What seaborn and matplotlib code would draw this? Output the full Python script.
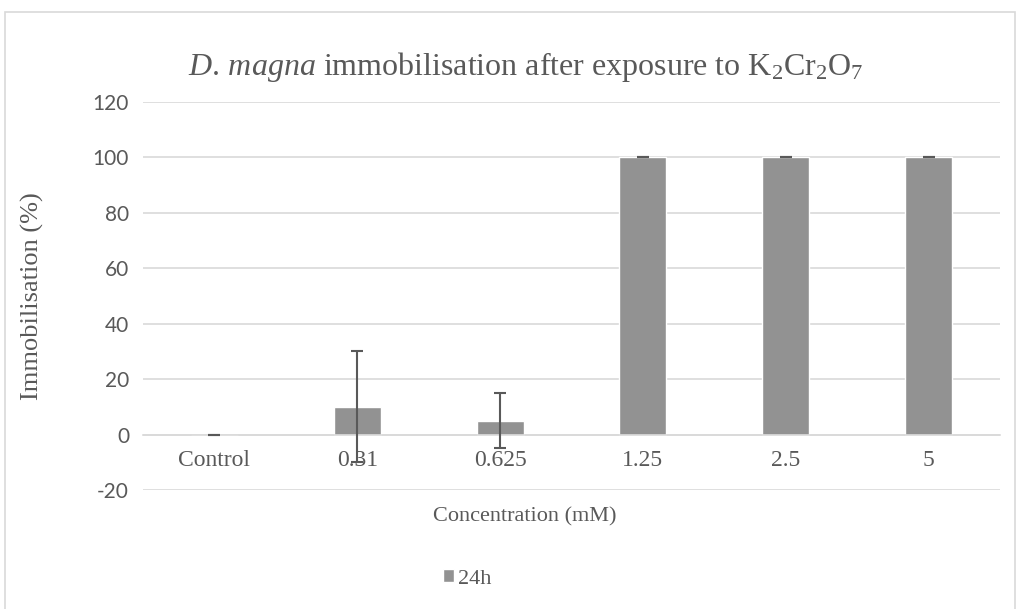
import matplotlib
matplotlib.use("Agg")
import matplotlib.pyplot as plt
from matplotlib.patches import Rectangle
import seaborn as sns
import pandas as pd

# values
concentrations = ["Control", "0.31", "0.625", "1.25", "2.5", "5"]
immobilisation = [0, 10, 5, 100, 100, 100]
std_dev = [0, 20, 10, 0, 0, 0]
series_name = "24h"
y_ticks = [-20, 0, 20, 40, 60, 80, 100, 120]

df = pd.DataFrame({"conc": concentrations, "immob": immobilisation, "sd": std_dev})

sns.set_style("white")
plt.rcParams["mathtext.fontset"] = "custom"
plt.rcParams["mathtext.rm"] = "Liberation Serif"
plt.rcParams["mathtext.it"] = "Liberation Serif:italic"
plt.rcParams["axes.unicode_minus"] = False

serif = "Liberation Serif"
sans = "Lato"
text_col = "#595959"

fig = plt.figure(figsize=(10.18, 6.09), dpi=100)
ax = fig.add_axes([143 / 1018, 1 - 490 / 609, (1000 - 143) / 1018, (490 - 102) / 609])

sns.barplot(data=df, x="conc", y="immob", color="#929292", width=0.33,
            errorbar=None, saturation=1, label=series_name, ax=ax)
ax.errorbar(range(len(df)), df["immob"], yerr=df["sd"], fmt="none",
            ecolor="#595959", elinewidth=1.5, capsize=4.5, capthick=1.5, zorder=3)

ax.set_ylim(-20, 120)
ax.set_yticks(y_ticks)
ax.set_xlim(-0.5, len(df) - 0.5)
ax.grid(axis="y", color="#d9d9d9", linewidth=1.2)
ax.set_axisbelow(True)
for s in ["top", "right", "left"]:
    ax.spines[s].set_visible(False)
ax.spines["bottom"].set_position(("data", 0))
ax.spines["bottom"].set_color("#d9d9d9")
ax.spines["bottom"].set_linewidth(1.2)
ax.tick_params(axis="both", length=0)
ax.tick_params(axis="x", pad=11)
ax.tick_params(axis="y", pad=10)

for lbl in ax.get_xticklabels():
    lbl.set_fontfamily(serif)
    lbl.set_fontsize(17)
    lbl.set_color(text_col)
for lbl in ax.get_yticklabels():
    lbl.set_fontfamily(sans)
    lbl.set_fontsize(15)
    lbl.set_color(text_col)

ax.set_xlabel("Concentration (mM)", fontfamily=serif, fontsize=16, color=text_col)
ax.xaxis.set_label_coords((525 - 143) / 857, -0.045)
ax.set_ylabel("Immobilisation (%)", fontfamily=serif, fontsize=19, color=text_col)
ax.yaxis.set_label_coords((44 - 143) / 857, 0.5)

fig.text(526 / 1018, 1 - 67 / 609,
         r"$\mathit{D.\,magna}$ immobilisation after exposure to K$_2$Cr$_2$O$_7$",
         ha="center", va="center", fontfamily=serif, fontsize=23, color=text_col)

leg = ax.legend(loc="center", bbox_to_anchor=(467 / 1018, 1 - 579 / 609), bbox_transform=fig.transFigure,
                frameon=False, handlelength=0.5, handleheight=0.5, handletextpad=0.2,
                prop={"family": serif, "size": 16})
for t in leg.get_texts():
    t.set_color(text_col)

# light chart-area border like the spreadsheet export
fig.patches.append(Rectangle((5 / 1018, -0.02), 1010 / 1018, 1 - 12 / 609 + 0.02,
                             transform=fig.transFigure, fill=False,
                             edgecolor="#d9d9d9", linewidth=1.2))

fig.savefig("out.png", dpi=100)
